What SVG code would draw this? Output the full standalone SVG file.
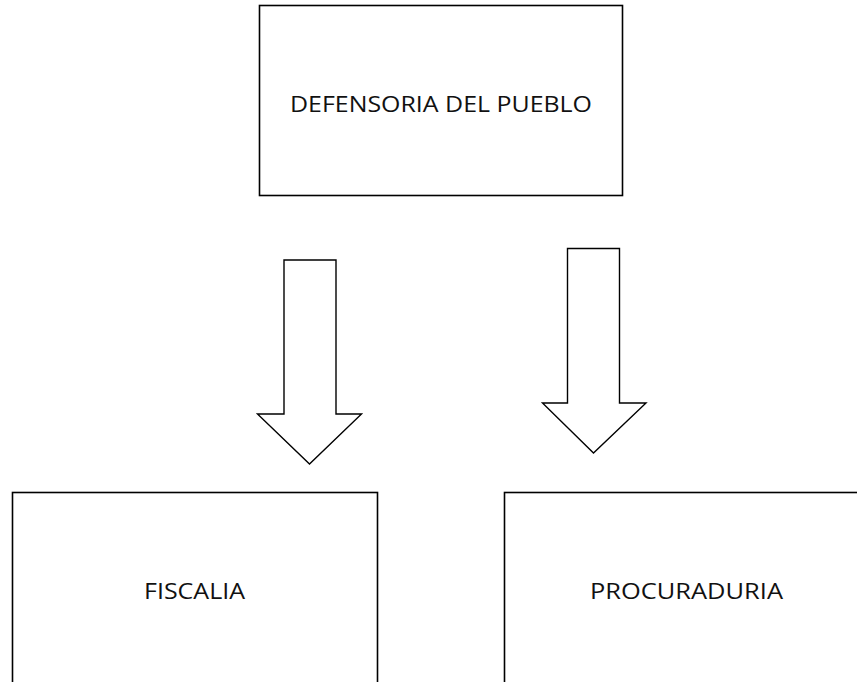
<svg xmlns="http://www.w3.org/2000/svg" width="857" height="682" viewBox="0 0 857 682">
<style>
.box{fill:#fff;stroke:#000;stroke-width:1.6}
.arr{fill:#fff;stroke:#000;stroke-width:1.4;stroke-linejoin:miter}
.lbl{font-family:"Open Sans","Liberation Sans",Arial,sans-serif;font-size:21px;fill:#111;text-anchor:middle}
</style>
<rect width="857" height="682" fill="#fff"/>
<g id="defensoria">
<rect class="box" x="259.5" y="5.5" width="363" height="190"/>
<text class="lbl" x="441" y="112" textLength="302" lengthAdjust="spacingAndGlyphs">DEFENSORIA DEL PUEBLO</text>
</g>
<g id="connectors">
<polygon class="arr" points="284,260 336,260 336,414 361.5,414 309.5,464 257.5,414 284,414"/>
<polygon class="arr" points="567.5,248.5 619.5,248.5 619.5,403 646,403 593.5,453 542.5,403 567.5,403"/>
</g>
<g id="fiscalia">
<rect class="box" x="12.5" y="492.5" width="365" height="200"/>
<text class="lbl" x="194.5" y="599" textLength="101" lengthAdjust="spacingAndGlyphs">FISCALIA</text>
</g>
<g id="procuraduria">
<rect class="box" x="504.5" y="492.5" width="360" height="200"/>
<text class="lbl" x="686.5" y="599" textLength="193" lengthAdjust="spacingAndGlyphs">PROCURADURIA</text>
</g>
</svg>
